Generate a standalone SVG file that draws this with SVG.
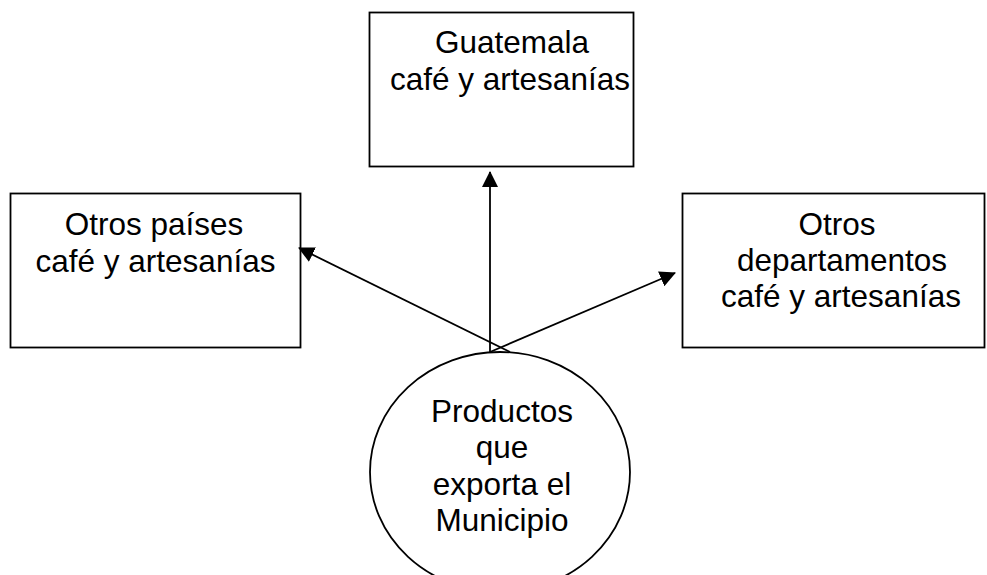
<svg xmlns="http://www.w3.org/2000/svg" width="987" height="575" viewBox="0 0 987 575">
<style>
.box{fill:#fff;stroke:#000;stroke-width:1.8}
.t{font-family:"Liberation Sans",Arial,sans-serif;font-size:31.5px;fill:#000;text-anchor:middle}
.c{stroke:#000;stroke-width:1.8;fill:none}
</style>
<defs>
<marker id="ah" markerUnits="userSpaceOnUse" markerWidth="16" markerHeight="16" refX="15" refY="8" orient="auto">
<path d="M0,0 L16,8 L0,16 Z" fill="#000"/>
</marker>
</defs>
<rect width="987" height="575" fill="#fff"/>
<g id="guatemala">
<rect class="box" x="369.5" y="12.5" width="264" height="154"/>
<text class="t" x="512" y="53">Guatemala</text>
<text class="t" x="510" y="90">café y artesanías</text>
</g>
<g id="otros-paises">
<rect class="box" x="10.5" y="193.5" width="290" height="154"/>
<text class="t" x="154" y="235">Otros países</text>
<text class="t" x="155.5" y="272">café y artesanías</text>
</g>
<g id="otros-departamentos">
<rect class="box" x="682.5" y="193.5" width="302" height="154"/>
<text class="t" x="837" y="235">Otros</text>
<text class="t" x="842" y="271">departamentos</text>
<text class="t" x="841" y="307">café y artesanías</text>
</g>
<g id="municipio">
<ellipse class="box" cx="500" cy="472" rx="130" ry="120"/>
<text class="t" x="502" y="422">Productos</text>
<text class="t" x="502" y="458">que</text>
<text class="t" x="502" y="495">exporta el</text>
<text class="t" x="502" y="531">Municipio</text>
</g>
<g id="connectors">
<line class="c" x1="490" y1="352" x2="490" y2="172" marker-end="url(#ah)"/>
<line class="c" x1="510" y1="352" x2="299" y2="248" marker-end="url(#ah)"/>
<line class="c" x1="490" y1="352" x2="675" y2="273" marker-end="url(#ah)"/>
</g>
</svg>
